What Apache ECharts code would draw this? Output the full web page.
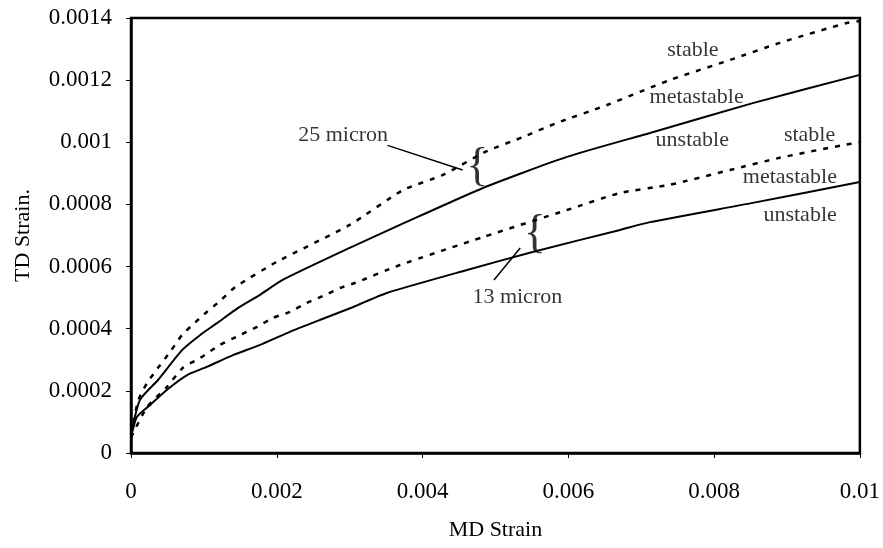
<!DOCTYPE html>
<html>
<head>
<meta charset="utf-8">
<script src="https://cdn.jsdelivr.net/npm/echarts@6/dist/echarts.min.js"></script>
<style>html,body{margin:0;padding:0;background:#fff}#c{width:883px;height:548px}</style>
</head>
<body>
<div id="c"></div>
<script>
// MD strain (x), TD strain (y)
const stable25 = [[0,0.00006],[0.0001,0.00017],[0.00022,0.000225],[0.00037,0.000274],[0.000535,0.000325],[0.0007,0.00038],[0.00088,0.00042],[0.00104,0.000454],[0.00122,0.000489],[0.00143,0.000534],[0.002,0.000615],[0.003,0.000734],[0.00373,0.000846],[0.00428,0.000895],[0.00486,0.000969],[0.00538,0.001017],[0.00584,0.001062],[0.00653,0.00112],[0.00739,0.0012],[0.00822,0.001265],[0.0089,0.00132],[0.00982,0.001384],[0.01,0.00139]];
const unstable25 = [[0,0.00006],[0.000123,0.000171],[0.00037,0.000235],[0.0007,0.000331],[0.00095,0.00038],[0.00118,0.000418],[0.00147,0.000467],[0.00177,0.000509],[0.00208,0.000557],[0.003,0.00066],[0.00369,0.000734],[0.00483,0.000853],[0.00598,0.000953],[0.00712,0.00103],[0.00853,0.001126],[0.01,0.001217]];
const stable13 = [[0,0.00005],[0.00022,0.000148],[0.00049,0.000212],[0.00071,0.000274],[0.00095,0.000306],[0.00122,0.000348],[0.0015,0.00038],[0.00173,0.000406],[0.00195,0.000435],[0.00218,0.000454],[0.00241,0.000483],[0.00263,0.000505],[0.00287,0.000531],[0.00307,0.000547],[0.00369,0.000605],[0.00483,0.000695],[0.00598,0.000782],[0.00671,0.000837],[0.00739,0.000863],[0.00822,0.000911],[0.0089,0.00095],[0.00977,0.000991],[0.01,0.001]];
const unstable13 = [[0,0.00005],[0.00008,0.000116],[0.00026,0.000154],[0.00049,0.000203],[0.00077,0.000251],[0.00104,0.000277],[0.0014,0.000315],[0.00177,0.000348],[0.00214,0.000386],[0.00259,0.000428],[0.00305,0.00047],[0.00351,0.000515],[0.00461,0.000589],[0.00551,0.000647],[0.00671,0.000718],[0.00712,0.000743],[0.00853,0.000805],[0.01,0.000872]];
const xTicks = [0,0.002,0.004,0.006,0.008,0.01];
const yTicks = [0,0.0002,0.0004,0.0006,0.0008,0.001,0.0012,0.0014];
const labelTexts = ['stable','metastable','unstable','stable','metastable','unstable','25 micron','13 micron'];
const labelAt = [[0.00771,0.001297],[0.00776,0.001146],[0.0077,0.001007],[0.00931,0.001023],[0.00904,0.000888],[0.00918,0.000766],[0.00291,0.001023],[0.0053,0.000502]];
const braceAt = [[0.00475,0.000917],[0.00554,0.000702]];
const arrow25 = [[0.00352,0.00099],[0.00455,0.000911]];
const arrow13 = [[0.00498,0.000557],[0.00534,0.00066]];

const FONT = 'Liberation Serif';
const chart = echarts.init(document.getElementById('c'), null, {renderer:'canvas'});
const axisCommon = {
  axisLine:{show:true,onZero:false,lineStyle:{color:'#000',width:2.5}},
  axisTick:{show:true,inside:false,length:5,lineStyle:{color:'#000',width:1}},
  splitLine:{show:false},
  nameLocation:'middle',
  nameTextStyle:{fontFamily:FONT,fontSize:22,color:'#000'},
  axisLabel:{fontFamily:FONT,fontSize:23,color:'#000'}
};
chart.setOption({
  animation:false,
  backgroundColor:'#fff',
  grid:{left:131,right:23,top:18,bottom:95,show:true,borderColor:'#000',borderWidth:2.5},
  xAxis:Object.assign({}, axisCommon, {type:'value',min:xTicks[0],max:xTicks[xTicks.length-1],interval:0.002,name:'MD Strain',nameGap:66,
    axisLabel:Object.assign({}, axisCommon.axisLabel, {margin:27})}),
  yAxis:Object.assign({}, axisCommon, {type:'value',min:yTicks[0],max:yTicks[yTicks.length-1],interval:0.0002,name:'TD Strain.',nameGap:97,nameRotate:90,
    axisLabel:Object.assign({}, axisCommon.axisLabel, {margin:19})}),
  series:[
    {type:'line',data:stable25,showSymbol:false,smooth:0.2,lineStyle:{color:'#000',width:2.5,type:[5,7]}},
    {type:'line',data:unstable25,showSymbol:false,smooth:0.2,lineStyle:{color:'#000',width:2}},
    {type:'line',data:stable13,showSymbol:false,smooth:0.2,lineStyle:{color:'#000',width:2.5,type:[5,7]}},
    {type:'line',data:unstable13,showSymbol:false,smooth:0.2,lineStyle:{color:'#000',width:2}},
    {type:'line',data:arrow25,showSymbol:false,lineStyle:{color:'#000',width:1.5}},
    {type:'line',data:arrow13,showSymbol:false,lineStyle:{color:'#000',width:1.5}},
    {type:'scatter',symbolSize:0,silent:true,
      data:labelTexts.map((t,i)=>({name:t,value:labelAt[i]})),
      label:{show:true,position:'inside',formatter:'{b}',fontFamily:FONT,fontSize:22,color:'#000'}},
    {type:'scatter',symbolSize:0,silent:true,
      data:braceAt.map(p=>({name:'{',value:p})),
      label:{show:true,position:'inside',formatter:p=>'{',fontFamily:FONT,fontSize:46,color:'#000'}}
  ]
});
</script>
</body>
</html>
